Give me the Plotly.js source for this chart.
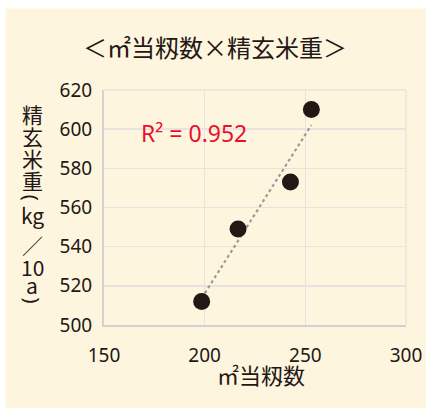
<!DOCTYPE html>
<html><head><meta charset="utf-8">
<script src="https://cdn.plot.ly/plotly-3.0.1.min.js"></script>
<style>html,body{margin:0;padding:0;background:#fff;}#chart{width:426px;height:408px;}</style>
</head><body><div id="chart"></div>
<script>
// ---- data ----
const xValues = [198.5, 216.6, 242.6, 253.0];
const yValues = [512, 549, 573, 610];
const xTickVals = [150, 200, 250, 300];
const yTickVals = [500, 520, 540, 560, 580, 600, 620];
const chartTitle = '＜㎡当籾数×精玄米重＞';
const xTitle = '㎡当籾数';
const yTitleParts = ['精','玄','米','重','(','kg','／','10','a',')'];
const r2Label = 'R² = 0.952';

// ---- least-squares trendline from the data ----
const n = xValues.length;
const mx = xValues.reduce((a,b)=>a+b,0)/n;
const my = yValues.reduce((a,b)=>a+b,0)/n;
let sxy=0, sxx=0;
for (let i=0;i<n;i++){ sxy+=(xValues[i]-mx)*(yValues[i]-my); sxx+=(xValues[i]-mx)**2; }
const slope = sxy/sxx, icpt = my - slope*mx;
const xMin = Math.min(...xValues), xMax = Math.max(...xValues);
const trendX = [xMin, xMax];
const trendY = trendX.map(x=>icpt+slope*x);

// ---- layout helpers (pixel -> paper) ----
const L=104.3, T=89.7, W=302, H=235.6;
const px = p => (p-L)/W;
const py = p => (T+H-p)/H;

const CJK = '"Noto Sans CJK JP", sans-serif';
const NUM = '"Noto Sans", "DejaVu Sans", sans-serif';
const ink = '#231815';
const cream = '#fef5df';

const yTitleY = [114,136,158,180,198,215,245,267,285,301];
const annotations = yTitleParts.map((t,i)=>{
  const paren = (t==='(' || t===')');
  return {
    text: t, xref:'paper', yref:'paper', x: px(32.5), y: py(yTitleY[i]),
    xanchor:'center', yanchor:'middle', showarrow:false,
    textangle: paren ? 90 : 0,
    font:{family: paren ? NUM : CJK, size: paren ? 20 : 21, color:ink}
  };
});
annotations.push({
  text: r2Label, xref:'paper', yref:'paper', x: px(139), y: py(133),
  xanchor:'left', yanchor:'middle', showarrow:false,
  font:{family:NUM, size:23, color:'#e8112d'}
});
annotations.push({
  text: xTitle, xref:'paper', yref:'paper', x: px(261), y: py(374),
  xanchor:'center', yanchor:'middle', showarrow:false,
  font:{family:CJK, size:22, color:ink}
});

const traces = [
  {x: trendX, y: trendY, mode:'lines', type:'scatter', hoverinfo:'skip',
   line:{color:'#9a9a9a', width:2.2, dash:'dot'}, showlegend:false},
  {x: xValues, y: yValues, mode:'markers', type:'scatter',
   marker:{color:ink, size:17}, showlegend:false}
];

const layout = {
  width:426, height:408,
  margin:{l:L, r:426-L-W, t:T, b:408-T-H, pad:0},
  paper_bgcolor:'#ffffff', plot_bgcolor:cream,
  showlegend:false,
  title:{text:chartTitle, font:{family:CJK, size:24, color:ink},
         xref:'container', yref:'container', x:215/426, y:1-49/408,
         xanchor:'center', yanchor:'middle'},
  xaxis:{range:[150,300], tickvals:xTickVals, ticks:'', showgrid:true,
         gridcolor:'#e7e4df', gridwidth:1.5, zeroline:false,
         showline:true, linecolor:'#d2d2d2', linewidth:2,
         tickfont:{family:NUM, size:19, color:ink}, ticklabelstandoff:12,
         fixedrange:true},
  yaxis:{range:[500,620], tickvals:yTickVals, ticks:'', showgrid:true,
         gridcolor:'#e7e4df', gridwidth:1.5, zeroline:false,
         showline:true, linecolor:'#d2d2d2', linewidth:2,
         tickfont:{family:NUM, size:19, color:ink}, ticklabelstandoff:6,
         fixedrange:true},
  shapes:[
    {type:'rect', xref:'paper', yref:'paper', x0:px(6), x1:px(430), y0:py(412), y1:py(8),
     fillcolor:cream, line:{width:0}, layer:'below'},
    {type:'line', xref:'paper', yref:'paper', x0:0, x1:1, y0:1, y1:1,
     line:{color:'#e7e4df', width:1.5}, layer:'below'},
    {type:'line', xref:'paper', yref:'paper', x0:1, x1:1, y0:0, y1:1,
     line:{color:'#e7e4df', width:1.5}, layer:'below'}
  ],
  annotations: annotations
};

Plotly.newPlot('chart', traces, layout, {displayModeBar:false, staticPlot:true});
</script></body></html>
